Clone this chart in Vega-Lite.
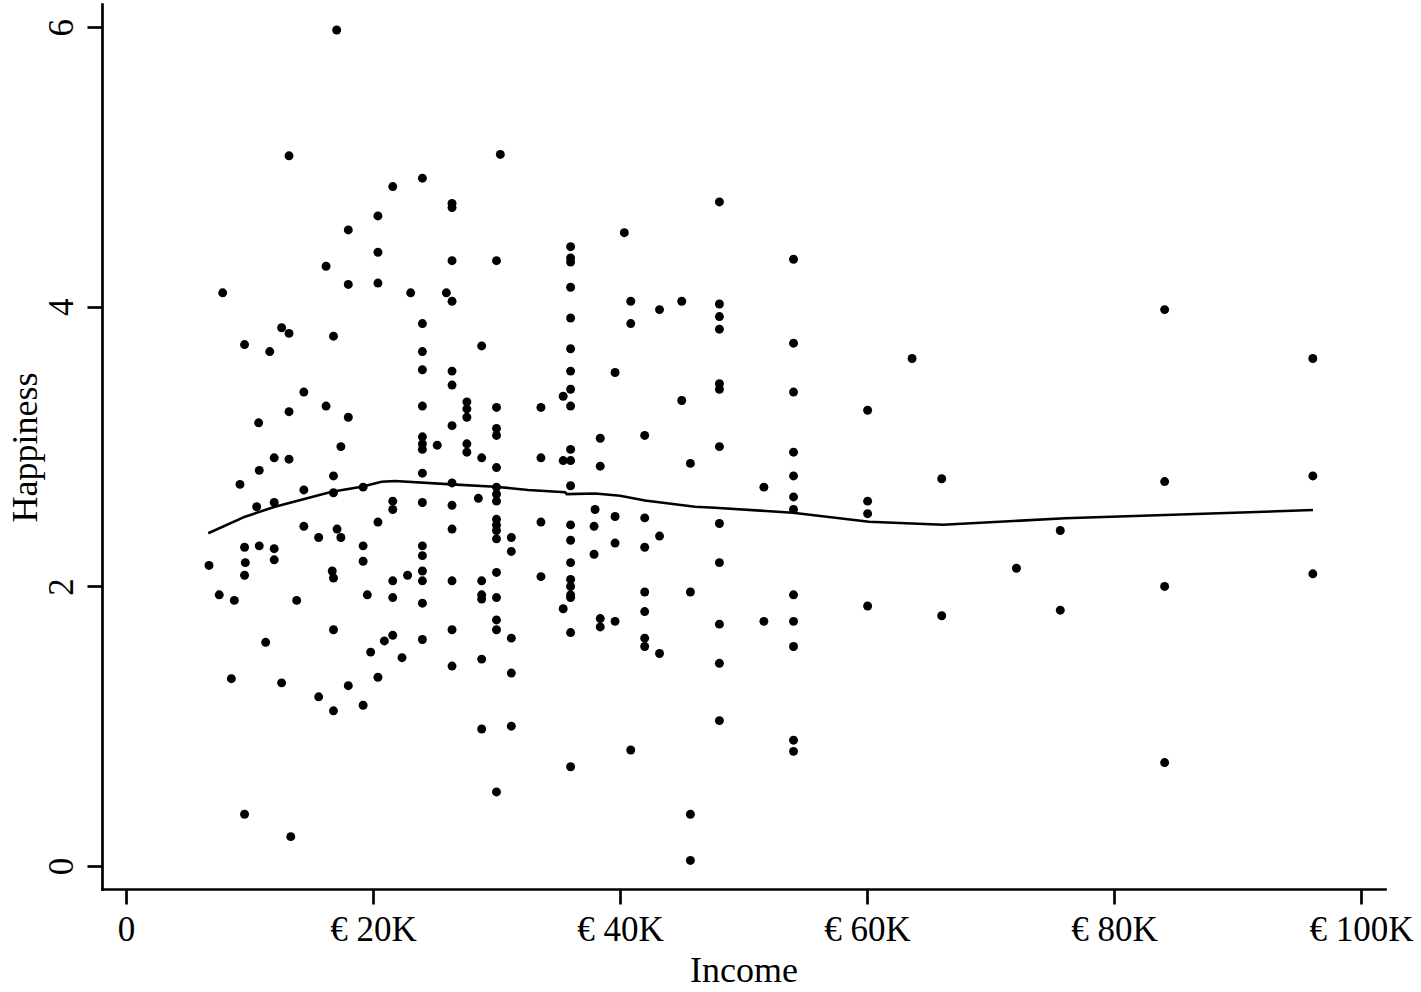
{
  "$schema": "https://vega.github.io/schema/vega-lite/v6.json",
  "autosize": {"type": "none"},
  "padding": {"left": 102, "top": 4, "right": 36, "bottom": 103},
  "width": 1283,
  "height": 885,
  "background": "white",
  "config": {"view": {"stroke": null}, "font": "Liberation Serif"},
  "datasets": {
    "points": [
      {"income":13200,"happiness":5.08},{"income":24000,"happiness":4.92},{"income":21600,"happiness":4.86},{"income":20400,"happiness":4.65},
      {"income":18000,"happiness":4.55},{"income":20400,"happiness":4.39},{"income":16200,"happiness":4.29},{"income":18000,"happiness":4.16},
      {"income":20400,"happiness":4.17},{"income":7830,"happiness":4.10},{"income":23050,"happiness":4.10},{"income":24000,"happiness":3.88},
      {"income":12600,"happiness":3.85},{"income":13200,"happiness":3.81},{"income":16800,"happiness":3.79},{"income":9600,"happiness":3.73},
      {"income":11640,"happiness":3.68},{"income":24000,"happiness":3.68},{"income":24000,"happiness":3.55},{"income":14400,"happiness":3.39},
      {"income":16200,"happiness":3.29},{"income":24000,"happiness":3.29},{"income":13200,"happiness":3.25},{"income":18000,"happiness":3.21},
      {"income":10740,"happiness":3.17},{"income":24000,"happiness":3.07},{"income":24000,"happiness":3.02},{"income":24000,"happiness":2.98},
      {"income":25200,"happiness":3.01},{"income":17400,"happiness":3.00},{"income":12000,"happiness":2.92},{"income":13200,"happiness":2.91},
      {"income":10790,"happiness":2.83},{"income":16800,"happiness":2.79},{"income":24000,"happiness":2.81},{"income":9230,"happiness":2.73},
      {"income":14400,"happiness":2.69},{"income":16800,"happiness":2.67},{"income":19200,"happiness":2.71},{"income":10580,"happiness":2.57},
      {"income":12000,"happiness":2.60},{"income":21600,"happiness":2.61},{"income":21600,"happiness":2.55},{"income":24000,"happiness":2.60},
      {"income":20400,"happiness":2.46},{"income":14400,"happiness":2.43},{"income":17090,"happiness":2.41},{"income":15600,"happiness":2.35},
      {"income":17400,"happiness":2.35},{"income":9600,"happiness":2.28},{"income":10790,"happiness":2.29},{"income":12000,"happiness":2.27},
      {"income":19200,"happiness":2.29},{"income":24000,"happiness":2.29},{"income":24000,"happiness":2.22},{"income":6720,"happiness":2.15},
      {"income":9660,"happiness":2.17},{"income":12000,"happiness":2.19},{"income":19200,"happiness":2.18},{"income":9600,"happiness":2.08},
      {"income":16700,"happiness":2.11},{"income":16800,"happiness":2.06},{"income":21600,"happiness":2.04},{"income":22800,"happiness":2.08},
      {"income":24000,"happiness":2.11},{"income":24000,"happiness":2.04},{"income":7550,"happiness":1.94},{"income":8770,"happiness":1.90},
      {"income":13820,"happiness":1.90},{"income":19540,"happiness":1.94},{"income":21600,"happiness":1.92},{"income":24000,"happiness":1.88},
      {"income":16800,"happiness":1.69},{"income":11310,"happiness":1.60},{"income":21600,"happiness":1.65},{"income":20920,"happiness":1.61},
      {"income":24000,"happiness":1.62},{"income":19810,"happiness":1.53},{"income":22350,"happiness":1.49},{"income":8530,"happiness":1.34},
      {"income":12600,"happiness":1.31},{"income":20400,"happiness":1.35},{"income":18000,"happiness":1.29},{"income":15600,"happiness":1.21},
      {"income":19200,"happiness":1.15},{"income":16800,"happiness":1.11},{"income":9600,"happiness":0.37},{"income":13340,"happiness":0.21},
      {"income":17060,"happiness":5.98},{"income":30310,"happiness":5.09},{"income":26400,"happiness":4.74},{"income":26400,"happiness":4.71},
      {"income":40350,"happiness":4.53},{"income":36000,"happiness":4.43},{"income":36000,"happiness":4.35},{"income":36000,"happiness":4.32},
      {"income":26400,"happiness":4.33},{"income":30000,"happiness":4.33},{"income":36000,"happiness":4.14},{"income":25940,"happiness":4.10},
      {"income":26400,"happiness":4.04},{"income":40870,"happiness":4.04},{"income":45000,"happiness":4.04},{"income":43200,"happiness":3.98},
      {"income":40870,"happiness":3.88},{"income":36000,"happiness":3.92},{"income":28800,"happiness":3.72},{"income":36000,"happiness":3.70},
      {"income":36000,"happiness":3.54},{"income":26400,"happiness":3.54},{"income":39600,"happiness":3.53},{"income":26400,"happiness":3.44},
      {"income":36000,"happiness":3.41},{"income":35400,"happiness":3.36},{"income":36000,"happiness":3.29},{"income":27600,"happiness":3.32},
      {"income":27600,"happiness":3.27},{"income":27600,"happiness":3.21},{"income":30000,"happiness":3.28},{"income":33600,"happiness":3.28},
      {"income":45000,"happiness":3.33},{"income":26400,"happiness":3.15},{"income":30000,"happiness":3.13},{"income":30000,"happiness":3.08},
      {"income":27600,"happiness":3.02},{"income":27600,"happiness":2.96},{"income":42000,"happiness":3.08},{"income":38400,"happiness":3.06},
      {"income":28800,"happiness":2.92},{"income":30000,"happiness":2.85},{"income":33600,"happiness":2.92},{"income":35400,"happiness":2.90},
      {"income":36000,"happiness":2.90},{"income":36000,"happiness":2.98},{"income":38400,"happiness":2.86},{"income":45700,"happiness":2.88},
      {"income":26400,"happiness":2.74},{"income":30000,"happiness":2.71},{"income":36000,"happiness":2.72},{"income":28530,"happiness":2.63},
      {"income":30000,"happiness":2.66},{"income":30000,"happiness":2.61},{"income":26400,"happiness":2.58},{"income":37980,"happiness":2.55},
      {"income":39600,"happiness":2.50},{"income":42000,"happiness":2.49},{"income":33600,"happiness":2.46},{"income":36000,"happiness":2.44},
      {"income":37900,"happiness":2.43},{"income":26400,"happiness":2.41},{"income":30000,"happiness":2.48},{"income":30000,"happiness":2.44},
      {"income":30000,"happiness":2.40},{"income":30000,"happiness":2.34},{"income":31200,"happiness":2.35},{"income":43200,"happiness":2.36},
      {"income":36000,"happiness":2.33},{"income":39600,"happiness":2.31},{"income":42000,"happiness":2.28},{"income":31200,"happiness":2.25},
      {"income":37900,"happiness":2.23},{"income":36000,"happiness":2.17},{"income":30000,"happiness":2.10},{"income":26400,"happiness":2.04},
      {"income":28800,"happiness":2.04},{"income":33600,"happiness":2.07},{"income":36000,"happiness":2.05},{"income":36000,"happiness":2.00},
      {"income":36000,"happiness":1.94},{"income":36000,"happiness":1.92},{"income":28800,"happiness":1.94},{"income":28800,"happiness":1.91},
      {"income":30000,"happiness":1.92},{"income":42000,"happiness":1.96},{"income":45700,"happiness":1.96},{"income":35400,"happiness":1.84},
      {"income":42000,"happiness":1.82},{"income":38400,"happiness":1.77},{"income":38400,"happiness":1.71},{"income":39600,"happiness":1.75},
      {"income":26400,"happiness":1.69},{"income":30000,"happiness":1.76},{"income":30000,"happiness":1.69},{"income":31200,"happiness":1.63},
      {"income":36000,"happiness":1.67},{"income":42000,"happiness":1.63},{"income":42000,"happiness":1.57},{"income":43200,"happiness":1.52},
      {"income":28800,"happiness":1.48},{"income":26400,"happiness":1.43},{"income":31200,"happiness":1.38},{"income":28800,"happiness":0.98},
      {"income":31200,"happiness":1.00},{"income":40870,"happiness":0.83},{"income":36000,"happiness":0.71},{"income":30000,"happiness":0.53},
      {"income":45700,"happiness":0.37},{"income":45700,"happiness":0.04},{"income":48050,"happiness":4.75},{"income":54050,"happiness":4.34},
      {"income":48050,"happiness":4.02},{"income":48050,"happiness":3.93},{"income":48050,"happiness":3.84},{"income":54050,"happiness":3.74},
      {"income":63650,"happiness":3.63},{"income":48050,"happiness":3.45},{"income":48050,"happiness":3.41},{"income":54050,"happiness":3.39},
      {"income":60050,"happiness":3.26},{"income":48050,"happiness":3.00},{"income":54050,"happiness":2.96},{"income":51650,"happiness":2.71},
      {"income":54050,"happiness":2.79},{"income":66050,"happiness":2.77},{"income":54050,"happiness":2.64},{"income":54050,"happiness":2.55},
      {"income":60050,"happiness":2.61},{"income":60050,"happiness":2.52},{"income":48050,"happiness":2.45},{"income":48050,"happiness":2.17},
      {"income":54050,"happiness":1.94},{"income":60050,"happiness":1.86},{"income":66050,"happiness":1.79},{"income":48050,"happiness":1.73},
      {"income":51650,"happiness":1.75},{"income":54050,"happiness":1.75},{"income":54050,"happiness":1.57},{"income":48050,"happiness":1.45},
      {"income":48050,"happiness":1.04},{"income":54050,"happiness":0.90},{"income":54050,"happiness":0.82},{"income":84100,"happiness":3.98},
      {"income":96100,"happiness":3.63},{"income":84100,"happiness":2.75},{"income":96100,"happiness":2.79},{"income":75650,"happiness":2.40},
      {"income":72100,"happiness":2.13},{"income":84100,"happiness":2.00},{"income":96100,"happiness":2.09},{"income":75650,"happiness":1.83},
      {"income":84100,"happiness":0.74}
    ],
    "smooth": [
      {"income":6660,"happiness":2.380},{"income":9640,"happiness":2.499},{"income":12060,"happiness":2.570},
      {"income":16660,"happiness":2.677},{"income":19080,"happiness":2.713},{"income":20700,"happiness":2.749},
      {"income":21780,"happiness":2.754},{"income":26370,"happiness":2.730},{"income":29880,"happiness":2.713},
      {"income":32570,"happiness":2.690},{"income":35550,"happiness":2.673},{"income":35700,"happiness":2.660},
      {"income":38000,"happiness":2.665},{"income":40000,"happiness":2.648},{"income":42020,"happiness":2.615},
      {"income":46070,"happiness":2.570},{"income":47690,"happiness":2.563},{"income":54000,"happiness":2.527},
      {"income":60160,"happiness":2.463},{"income":66150,"happiness":2.441},{"income":76030,"happiness":2.487},
      {"income":84130,"happiness":2.511},{"income":96110,"happiness":2.546}
    ]
  },
  "encoding": {
    "x": {
      "field": "income",
      "type": "quantitative",
      "scale": {"domain": [-1943, 101943], "nice": false, "zero": false},
      "axis": {
        "title": "Income",
        "values": [0, 20000, 40000, 60000, 80000, 100000],
        "labelExpr": "datum.value == 0 ? '0' : '€ ' + (datum.value / 1000) + 'K'",
        "grid": false,
        "domainColor": "black",
        "domainWidth": 2.7,
        "domainCap": "square",
        "tickColor": "black",
        "tickWidth": 2.7,
        "tickSize": 15,
        "labelFont": "Liberation Serif",
        "labelFontSize": 35,
        "labelColor": "black",
        "labelPadding": 8,
        "labelBaseline": "top",
        "labelFlush": false,
        "labelOverlap": false,
        "titleFont": "Liberation Serif",
        "titleFontSize": 36,
        "titleFontWeight": "normal",
        "titleColor": "black",
        "titleBaseline": "alphabetic",
        "titleY": 92
      }
    },
    "y": {
      "field": "happiness",
      "type": "quantitative",
      "scale": {"domain": [-0.1645, 6.166], "nice": false, "zero": false},
      "axis": {
        "title": "Happiness",
        "values": [0, 2, 4, 6],
        "grid": false,
        "domainColor": "black",
        "domainWidth": 2.7,
        "domainCap": "square",
        "tickColor": "black",
        "tickWidth": 2.7,
        "tickSize": 15,
        "labelFont": "Liberation Serif",
        "labelFontSize": 35,
        "labelColor": "black",
        "labelAngle": -90,
        "labelAlign": "center",
        "labelBaseline": "alphabetic",
        "labelPadding": 15,
        "labelFlush": false,
        "labelOverlap": false,
        "titleFont": "Liberation Serif",
        "titleFontSize": 36,
        "titleFontWeight": "normal",
        "titleColor": "black",
        "titleAngle": -90,
        "titleAlign": "center",
        "titleBaseline": "alphabetic",
        "titleX": -66,
        "titleY": 443
      }
    }
  },
  "layer": [
    {
      "data": {"name": "points"},
      "mark": {"type": "circle", "color": "black", "size": 80, "opacity": 1}
    },
    {
      "data": {"name": "smooth"},
      "mark": {"type": "line", "color": "black", "strokeWidth": 2.6},
      "encoding": {}
    }
  ]
}
